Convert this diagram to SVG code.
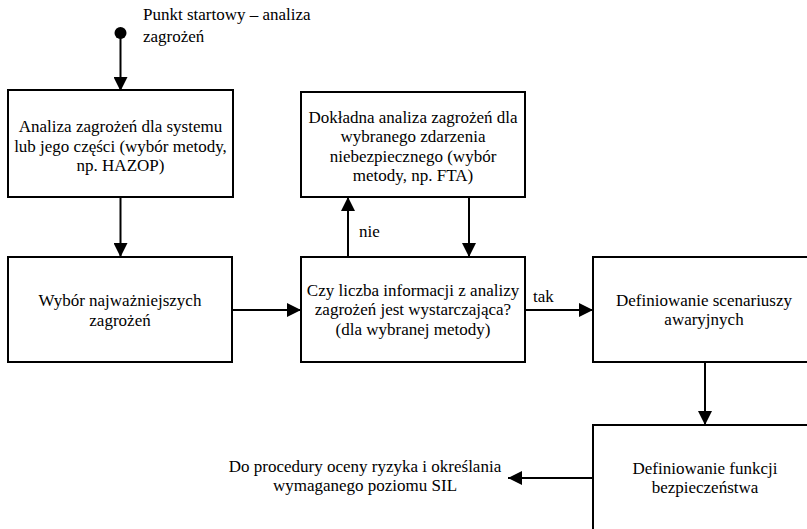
<svg xmlns="http://www.w3.org/2000/svg" width="807" height="529" viewBox="0 0 807 529">
  <style>
    .box { fill: #ffffff; stroke: #000000; stroke-width: 2; }
    .lbl { font-family: "Liberation Serif", "Times New Roman", serif; font-size: 17px; fill: #000000; }
    .c { text-anchor: middle; }
    .edge { stroke: #000000; stroke-width: 2; fill: none; marker-end: url(#arrow); }
  </style>
  <defs>
    <marker id="arrow" markerUnits="userSpaceOnUse" markerWidth="14" markerHeight="14" viewBox="0 0 12 12" refX="12" refY="6" orient="auto">
      <path d="M0,0 L12,6 L0,12 Z" fill="#000000"/>
    </marker>
  </defs>
  <rect width="807" height="529" fill="#ffffff"/>

  <g id="connectors">
    <circle cx="120.5" cy="33" r="6" fill="#000000"/>
    <line class="edge" x1="120.5" y1="33" x2="120.5" y2="91"/>
    <line class="edge" x1="120.5" y1="197" x2="120.5" y2="257"/>
    <line class="edge" x1="232" y1="310" x2="301" y2="310"/>
    <line class="edge" x1="348" y1="257" x2="348" y2="197"/>
    <line class="edge" x1="469" y1="197" x2="469" y2="257"/>
    <line class="edge" x1="525" y1="310" x2="593" y2="310"/>
    <line class="edge" x1="705" y1="362" x2="705" y2="425"/>
    <line class="edge" x1="593" y1="478" x2="508" y2="478"/>
    <text class="lbl" x="359" y="237">nie</text>
    <text class="lbl" x="533" y="302">tak</text>
  </g>

  <g id="start">
    <text class="lbl" x="143" y="20">Punkt startowy – analiza</text>
    <text class="lbl" x="143" y="42">zagrożeń</text>
  </g>

  <g id="hazard-analysis">
    <rect class="box" x="8" y="90" width="225" height="107"/>
    <text class="lbl c" x="120.5" y="132">Analiza zagrożeń dla systemu</text>
    <text class="lbl c" x="120.5" y="151.5">lub jego części (wybór metody,</text>
    <text class="lbl c" x="120.5" y="171">np. HAZOP)</text>
  </g>

  <g id="detailed-analysis">
    <rect class="box" x="301" y="92" width="224" height="105"/>
    <text class="lbl c" x="413" y="123">Dokładna analiza zagrożeń dla</text>
    <text class="lbl c" x="413" y="142">wybranego zdarzenia</text>
    <text class="lbl c" x="413" y="161.5">niebezpiecznego (wybór</text>
    <text class="lbl c" x="413" y="181">metody, np. FTA)</text>
  </g>

  <g id="key-hazards">
    <rect class="box" x="8" y="257" width="224" height="105"/>
    <text class="lbl c" x="120" y="306">Wybór najważniejszych</text>
    <text class="lbl c" x="120" y="325.5">zagrożeń</text>
  </g>

  <g id="sufficiency-check">
    <rect class="box" x="301" y="257" width="224" height="105"/>
    <text class="lbl c" x="413" y="296">Czy liczba informacji z analizy</text>
    <text class="lbl c" x="413" y="315">zagrożeń jest wystarczająca?</text>
    <text class="lbl c" x="413" y="334.5">(dla wybranej metody)</text>
  </g>

  <g id="scenarios">
    <rect class="box" x="593" y="257" width="224" height="105"/>
    <text class="lbl c" x="704" y="306">Definiowanie scenariuszy</text>
    <text class="lbl c" x="704" y="325">awaryjnych</text>
  </g>

  <g id="safety-functions">
    <rect class="box" x="593" y="425" width="224" height="120"/>
    <text class="lbl c" x="705" y="473.5">Definiowanie funkcji</text>
    <text class="lbl c" x="705" y="492.5">bezpieczeństwa</text>
  </g>

  <g id="sil-output">
    <text class="lbl c" x="365" y="472">Do procedury oceny ryzyka i określania</text>
    <text class="lbl c" x="365" y="491">wymaganego poziomu SIL</text>
  </g>
</svg>
